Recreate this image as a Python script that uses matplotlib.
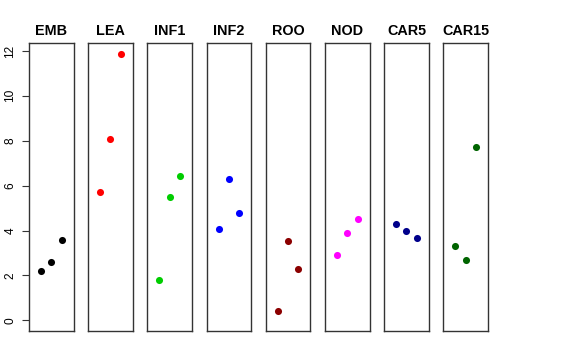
import numpy as np
import matplotlib.pyplot as plt

# DATA
tissues = ["EMB", "LEA", "INF1", "INF2", "ROO", "NOD", "CAR5", "CAR15"]
colours = ["black", "#FF0000", "#00CD00", "#0000FF", "#8B0000", "#FF00FF", "#00008B", "#006400"]
emb = [2.21, 2.60, 3.56]
lea = [5.72, 8.07, 11.88]
inf1 = [1.80, 5.51, 6.43]
inf2 = [4.08, 6.30, 4.77]
roo = [0.40, 3.52, 2.27]
nod = [2.92, 3.89, 4.51]
car5 = [4.28, 3.98, 3.68]
car15 = [3.31, 2.67, 7.72]
values = [emb, lea, inf1, inf2, roo, nod, car5, car15]
reps = [1, 2, 3]

plt.rcParams['font.family'] = ['Liberation Sans', 'DejaVu Sans']

# LAYOUT (pixels of a 576x360 picture)
W, H = 576, 360
left0 = 29
panel_w = 44.5
step = 59.2
bottom_px = 331
top_px = 43

fig = plt.figure(figsize=(5.76, 3.6), dpi=100)

# y range like R: 0 to max, padded by 4 percent
ymax = max(max(v) for v in values)
pad = 0.04 * ymax
ylo, yhi = 0 - pad, ymax + pad

for i in range(len(tissues)):
    x0 = left0 + i * step
    ax = fig.add_axes([x0 / W, (H - bottom_px) / H, panel_w / W, (bottom_px - top_px) / H])
    ax.scatter(reps, values[i], s=26, color=colours[i], zorder=3, linewidths=0)
    ax.set_xlim(-0.16, 4.16)
    ax.set_ylim(ylo, yhi)
    ax.set_xticks([])
    ax.set_title(tissues[i], fontsize=10.4, fontweight="bold", pad=6)
    for s in ax.spines.values():
        s.set_color("#333333")
        s.set_linewidth(1.0)
    if i == 0:
        ax.set_yticks([0, 2, 4, 6, 8, 10, 12])
        ax.tick_params(axis="y", length=5, width=0.8, pad=4, labelsize=8.6, color="#333333")
        for lab in ax.get_yticklabels():
            lab.set_rotation(90)
            lab.set_va("center")
    else:
        ax.set_yticks([])

plt.savefig("out.png", dpi=100)
